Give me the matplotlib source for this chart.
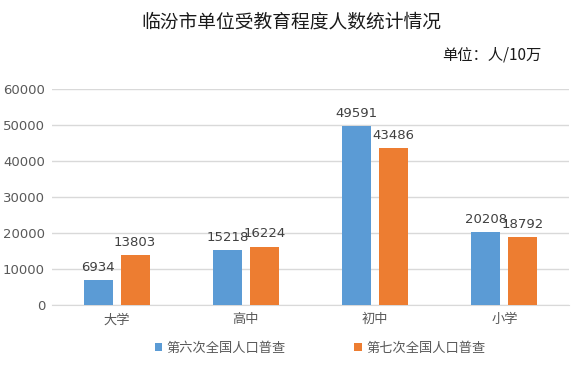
import matplotlib
matplotlib.use("Agg")
import matplotlib.pyplot as plt
import numpy as np

plt.rcParams['font.family'] = ['Noto Sans CJK SC', 'DejaVu Sans']

categories = ["大学", "高中", "初中", "小学"]
series_names = ["第六次全国人口普查", "第七次全国人口普查"]
census6 = [6934, 15218, 49591, 20208]
census7 = [13803, 16224, 43486, 18792]
colors = ["#5B9BD5", "#ED7D31"]

fig = plt.figure(figsize=(5.82, 3.66), dpi=100)
ax = fig.add_axes([52/582, 1-305/366, 517/582, 216/366])

x = np.arange(len(categories))
w = 0.225
off = 0.143
b1 = ax.bar(x - off, census6, w, color=colors[0], label=series_names[0], zorder=3)
b2 = ax.bar(x + off, census7, w, color=colors[1], label=series_names[1], zorder=3)

for bars, vals in ((b1, census6), (b2, census7)):
    for r, v in zip(bars, vals):
        ax.annotate(str(v), (r.get_x() + r.get_width()/2, v), xytext=(0, 4.5),
                    textcoords="offset points", ha="center", va="bottom",
                    fontsize=9.5, color="#404040", family="DejaVu Sans")

ax.set_xlim(-0.5, 3.5)
ax.set_ylim(0, 60000)
ax.set_yticks(range(0, 60001, 10000))
ax.yaxis.grid(True, color="#D9D9D9", linewidth=1, zorder=0)
for s in ["top", "right", "left"]:
    ax.spines[s].set_visible(False)
ax.spines["bottom"].set_color("#D9D9D9")
ax.tick_params(axis="both", length=0, colors="#595959")
ax.tick_params(axis="y", labelsize=9.5, pad=5)
ax.tick_params(axis="x", labelsize=9.5, pad=6)
ax.set_xticks(x)
ax.set_xticklabels(categories)
for t in ax.get_yticklabels():
    t.set_family("DejaVu Sans")

fig.text(0.5, 1-22/366, "临汾市单位受教育程度人数统计情况", ha="center", va="center",
         fontsize=13.5, color="#1a1a1a")
fig.text(541/582, 1-55/366, "单位：人/10万", ha="right", va="center",
         fontsize=11, color="#1a1a1a", fontweight="medium")

leg = fig.legend(handles=[b1, b2], labels=series_names, loc="center",
                 bbox_to_anchor=(320/582, 1-348/366), ncol=2, frameon=False,
                 fontsize=9.5, handlelength=0.6, handleheight=0.6,
                 handletextpad=0.3, columnspacing=5.2)
for t in leg.get_texts():
    t.set_color("#595959")

fig.savefig("out.png", dpi=100)
